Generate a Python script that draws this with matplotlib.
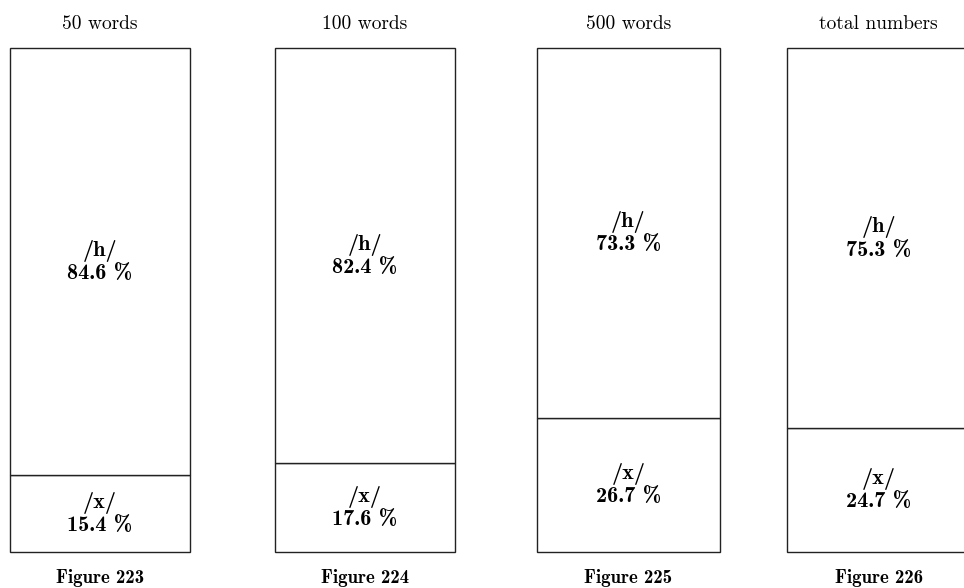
import matplotlib.pyplot as plt

# share of /h/ and /x/ for each sample size
titles = ["50 words", "100 words", "500 words", "total numbers"]
figure_names = ["Figure 223", "Figure 224", "Figure 225", "Figure 226"]
pct_h = [84.6, 82.4, 73.3, 75.3]
pct_x = [15.4, 17.6, 26.7, 24.7]

fig = plt.figure(figsize=(9.64, 5.88), dpi=100)

# box placement (figure fractions)
lefts = [0.0104, 0.2853, 0.557, 0.8164]
widths = [0.1867, 0.1867, 0.19, 0.19]
bottom, height = 0.061, 0.857

title_font = dict(family=["cmr10", "DejaVu Serif"], fontsize=14)
label_font = dict(family=["cmb10", "DejaVu Serif"], fontsize=16)
fig_font = dict(family=["cmb10", "DejaVu Serif"], fontsize=13.5)

for i in range(4):
    ax = fig.add_axes([lefts[i], bottom, widths[i], height])
    ax.bar([0], [pct_x[i]], width=1, color="white", edgecolor="#222222",
           linewidth=1.0, clip_on=False)
    ax.bar([0], [pct_h[i]], bottom=[pct_x[i]], width=1, color="white",
           edgecolor="#222222", linewidth=1.0, clip_on=False)
    ax.set_xlim(-0.5, 0.5)
    ax.set_ylim(0, 100)
    ax.axis("off")

    ax.text(0, pct_x[i] + pct_h[i] / 2, f"/h/\n{pct_h[i]:.1f} %",
            ha="center", va="center", linespacing=1.15, **label_font)
    ax.text(0, pct_x[i] / 2, f"/x/\n{pct_x[i]:.1f} %",
            ha="center", va="center", linespacing=1.15, **label_font)

    ax.annotate(titles[i], xy=(0.5, 1), xycoords="axes fraction",
                xytext=(0, 11), textcoords="offset points",
                ha="center", va="bottom", **title_font)
    ax.annotate(figure_names[i], xy=(0.5, 0), xycoords="axes fraction",
                xytext=(0, -12), textcoords="offset points",
                ha="center", va="top", **fig_font)

fig.savefig("out.png", dpi=100)
